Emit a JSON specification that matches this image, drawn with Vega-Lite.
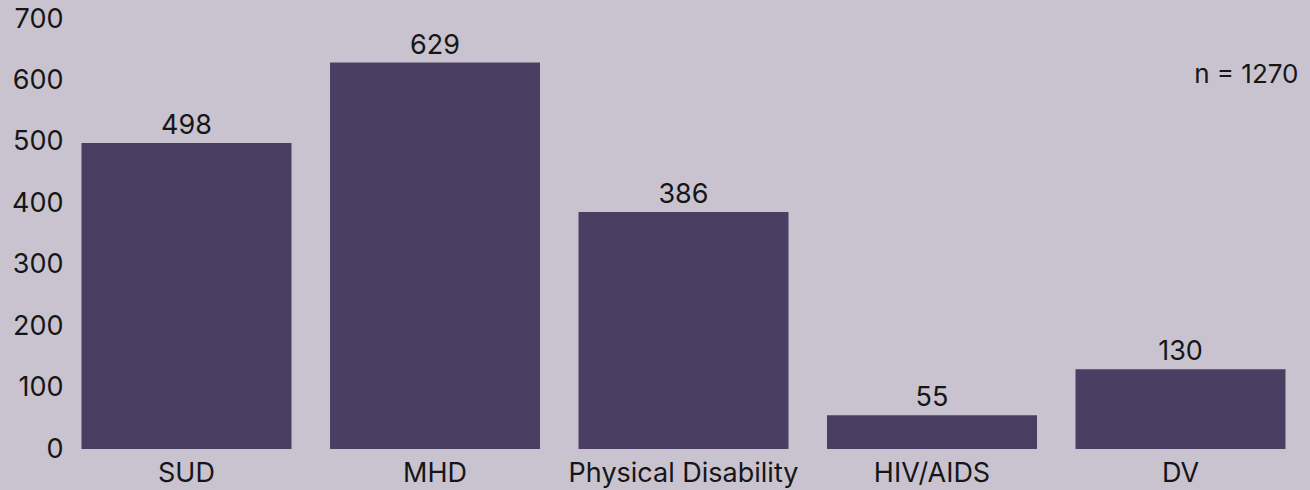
{
  "$schema": "https://vega.github.io/schema/vega-lite/v6.json",
  "width": 1241,
  "height": 430,
  "autosize": {"type": "none"},
  "padding": {"left": 63, "top": 19, "right": 6, "bottom": 41},
  "background": "#c9c3d0",
  "config": {
    "view": {"stroke": null},
    "font": "Inter",
    "text": {"font": "Inter"}
  },
  "data": {
    "values": [
      {"category": "SUD", "count": 498},
      {"category": "MHD", "count": 629},
      {"category": "Physical Disability", "count": 386},
      {"category": "HIV/AIDS", "count": 55},
      {"category": "DV", "count": 130}
    ]
  },
  "encoding": {
    "x": {
      "field": "category",
      "type": "nominal",
      "sort": null,
      "scale": {"paddingInner": 0.155, "paddingOuter": 0.0745},
      "axis": {
        "title": null,
        "labelAngle": 0,
        "domain": false,
        "ticks": false,
        "labelFontSize": 27,
        "labelColor": "#161616",
        "labelPadding": 11,
        "labelLimit": 0,
        "labelFont": "Inter"
      }
    },
    "y": {
      "field": "count",
      "type": "quantitative",
      "scale": {"domain": [0, 700], "nice": false},
      "axis": {
        "title": null,
        "values": [0, 100, 200, 300, 400, 500, 600, 700],
        "grid": false,
        "domain": false,
        "ticks": false,
        "labelFontSize": 27,
        "labelColor": "#161616",
        "labelPadding": 0,
        "labelFont": "Inter"
      }
    }
  },
  "layer": [
    {"mark": {"type": "bar", "color": "#4a3f63"}},
    {
      "mark": {"type": "text", "baseline": "alphabetic", "dy": -9, "fontSize": 27, "color": "#161616"},
      "encoding": {"text": {"field": "count", "type": "quantitative"}}
    },
    {
      "data": {"values": [{"category": "DV", "ypos": 596, "label": "n = 1270"}]},
      "mark": {"type": "text", "align": "right", "baseline": "alphabetic", "dx": 13, "fontSize": 26, "color": "#161616"},
      "encoding": {
        "x": {"field": "category", "type": "nominal", "sort": null, "bandPosition": 1},
        "y": {"field": "ypos", "type": "quantitative"},
        "text": {"field": "label", "type": "nominal"}
      }
    }
  ]
}
